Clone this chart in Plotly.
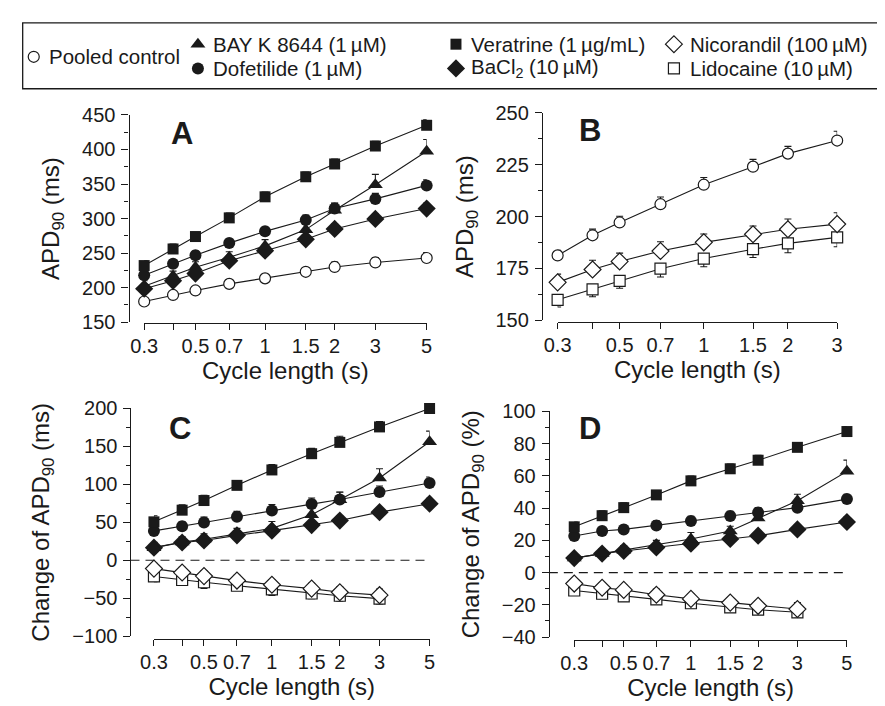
import math
import plotly.graph_objects as go

# ---------------- data ----------------
cycle_length = [0.3, 0.4, 0.5, 0.7, 1, 1.5, 2, 3, 5]
cycle_length_b = [0.3, 0.4, 0.5, 0.7, 1, 1.5, 2, 3]
x_tick_vals = [0.3, 0.5, 0.7, 1, 1.5, 2, 3, 5]
x_tick_text = ["0.3", "0.5", "0.7", "1", "1.5", "2", "3", "5"]
x_unlabelled_ticks = [0.4]

# Panel A: APD90 (ms)
a_control = [180, 189.5, 196, 205.5, 213.5, 223, 230, 236.5, 243]
a_control_err = [4, 5, 4, 6, 6, 6, 7, 7, 8]
a_bayk = [202, 217, 229.5, 244, 260.5, 284, 312, 349, 397.5]
a_bayk_err = [8, 7, 8, 8, 9, 10, 10, 15, 17]
a_dof = [218, 234.5, 247, 264.5, 281.5, 298, 314.5, 328.5, 348]
a_dof_err = [6, 6, 6, 6, 6, 7, 8, 8, 8]
a_ver = [232, 256, 274, 301, 331.5, 360.5, 379, 405, 435]
a_ver_err = [7, 7, 6, 7, 7, 7, 7, 7, 8]
a_bacl = [198.5, 210, 220.5, 239, 253.5, 270, 285, 299.5, 314.5]
a_bacl_err = [6, 6, 6, 6, 6, 6, 7, 7, 8]

# Panel B: APD90 (ms)
b_control = [181.3, 191, 197.2, 206, 215.4, 224.1, 230.4, 236.7]
b_control_err = [2.5, 3, 3, 3.5, 3.5, 3.5, 3.5, 4.5]
b_nic = [168.3, 174.5, 178.4, 183.4, 187.6, 191.5, 193.9, 196.4]
b_nic_err = [4, 4.5, 4, 4.5, 4, 4, 5, 5.5]
b_lid = [159.9, 164.9, 169, 174.9, 179.8, 184.3, 187.1, 190]
b_lid_err = [3.5, 3.5, 3.5, 4, 4, 4, 4.5, 4.5]

# Panel C: change of APD90 (ms)
c_ver = [50.6, 66, 78.7, 98.7, 119, 140.4, 155.3, 175.7, 200]
c_ver_err = [8, 7, 7, 6, 7, 7, 8, 7, 8]
c_bayk = [16.6, 24, 27.7, 35, 42, 60, 79.6, 108.5, 156.2]
c_bayk_err = [7, 7, 7, 7, 9, 9, 10, 12, 14]
c_dof = [38.7, 44.7, 49.8, 57.4, 65.5, 74, 80, 89.8, 101.7]
c_dof_err = [6, 6, 7, 7, 8, 8, 10, 8, 8]
c_bacl = [16.6, 23.4, 26, 32.8, 39, 46.4, 52.3, 63.4, 74.5]
c_bacl_err = [6, 6, 6, 6, 6, 6, 6, 6, 7]
c_nic = [-11, -16.2, -20.9, -26.8, -32.3, -37.4, -42.1, -46]
c_nic_err = [7, 7, 7, 7, 7, 7, 7, 8]
c_lid = [-21.3, -26, -29, -33.6, -38.3, -43.8, -46.8, -50.6]
c_lid_err = [7, 7, 8, 6, 8, 7, 7, 7]

# Panel D: change of APD90 (%)
d_ver = [28.4, 35.3, 40.3, 48.2, 56.9, 64.4, 69.7, 77.7, 87.5]
d_ver_err = [3, 3, 3, 2, 3, 3, 3, 3, 3]
d_bayk = [9, 11.8, 13.8, 17, 20.9, 25.8, 33.8, 44.6, 62.8]
d_bayk_err = [2, 3, 3, 3, 4, 3, 4, 4, 7]
d_dof = [22.7, 25.8, 26.8, 29.2, 32, 35.1, 37.3, 40.3, 45.6]
d_dof_err = [2, 2, 2.5, 3, 3, 3, 3, 3, 3]
d_bacl = [9, 11.8, 13.4, 15.6, 17.9, 20.9, 22.9, 26.8, 31.4]
d_bacl_err = [2, 2, 2, 2, 2, 2, 2, 2, 3]
d_nic = [-6.8, -9.4, -10.7, -13.7, -16.3, -18.6, -20.6, -22.6]
d_nic_err = [3, 3, 3, 3.5, 3, 3, 3, 4]
d_lid = [-11.1, -13.1, -14.7, -16.6, -19, -21.6, -23, -24.6]
d_lid_err = [3, 3, 3, 3, 3, 3, 3, 3]

series_names = {
    "control": "Pooled control",
    "bayk": "BAY K 8644 (1\u2009\u00b5M)",
    "dof": "Dofetilide (1\u2009\u00b5M)",
    "ver": "Veratrine (1\u2009\u00b5g/mL)",
    "bacl": "BaCl<sub>2</sub> (10\u2009\u00b5M)",
    "nic": "Nicorandil (100\u2009\u00b5M)",
    "lid": "Lidocaine (10\u2009\u00b5M)",
}

# ---------------- styles ----------------
W, H = 885, 706
OFF_X, OFF_Y = 8, 8   # page body margin of the html page
FONT = "Arial, Liberation Sans, Helvetica, sans-serif"
BLACK = "#1a1a1a"

marker_style = {
    "control": dict(symbol="circle", size=11, color="white", line=dict(color=BLACK, width=1.2)),
    "bayk": dict(symbol="triangle-up", size=13, color=BLACK, line=dict(color=BLACK, width=0)),
    "dof": dict(symbol="circle", size=12, color=BLACK, line=dict(color=BLACK, width=0)),
    "ver": dict(symbol="square", size=11, color=BLACK, line=dict(color=BLACK, width=0)),
    "bacl": dict(symbol="diamond", size=14, color=BLACK, line=dict(color=BLACK, width=0)),
    "nic": dict(symbol="diamond", size=13, color="white", line=dict(color=BLACK, width=1.2)),
    "lid": dict(symbol="square", size=11, color="white", line=dict(color=BLACK, width=1.2)),
}
err_down = {"lid"}


def px_x(x):
    return (x - OFF_X) / W


def px_y(y):
    return 1 - (y - OFF_Y) / H


fig = go.Figure()


def add_series(key, xs, ys, errs, xa, ya):
    if key in err_down:
        ey = dict(type="data", symmetric=False, array=[0] * len(errs), arrayminus=errs,
                  color=BLACK, thickness=1.1, width=3.5)
    else:
        ey = dict(type="data", symmetric=False, array=errs, arrayminus=[0] * len(errs),
                  color=BLACK, thickness=1.1, width=3.5)
    fig.add_trace(go.Scatter(
        x=xs, y=ys, mode="lines+markers", name=series_names[key],
        line=dict(color=BLACK, width=1.1), marker=marker_style[key],
        error_y=ey, showlegend=False, cliponaxis=False,
        xaxis=xa, yaxis=ya,
    ))


# Panel A
add_series("control", cycle_length, a_control, a_control_err, "x", "y")
add_series("bacl", cycle_length, a_bacl, a_bacl_err, "x", "y")
add_series("bayk", cycle_length, a_bayk, a_bayk_err, "x", "y")
add_series("dof", cycle_length, a_dof, a_dof_err, "x", "y")
add_series("ver", cycle_length, a_ver, a_ver_err, "x", "y")
# Panel B
add_series("lid", cycle_length_b, b_lid, b_lid_err, "x2", "y2")
add_series("nic", cycle_length_b, b_nic, b_nic_err, "x2", "y2")
add_series("control", cycle_length_b, b_control, b_control_err, "x2", "y2")
# Panel C
add_series("lid", cycle_length_b, c_lid, c_lid_err, "x3", "y3")
add_series("nic", cycle_length_b, c_nic, c_nic_err, "x3", "y3")
add_series("bacl", cycle_length, c_bacl, c_bacl_err, "x3", "y3")
add_series("bayk", cycle_length, c_bayk, c_bayk_err, "x3", "y3")
add_series("dof", cycle_length, c_dof, c_dof_err, "x3", "y3")
add_series("ver", cycle_length, c_ver, c_ver_err, "x3", "y3")
# Panel D
add_series("lid", cycle_length_b, d_lid, d_lid_err, "x4", "y4")
add_series("nic", cycle_length_b, d_nic, d_nic_err, "x4", "y4")
add_series("bacl", cycle_length, d_bacl, d_bacl_err, "x4", "y4")
add_series("bayk", cycle_length, d_bayk, d_bayk_err, "x4", "y4")
add_series("dof", cycle_length, d_dof, d_dof_err, "x4", "y4")
add_series("ver", cycle_length, d_ver, d_ver_err, "x4", "y4")

# ---------------- legend (keys + labels) ----------------
legend_keys = [  # key, symbol x px, y px, text x px
    ("control", 20, 47, 35),
    ("bayk", 188, 34, 202),
    ("dof", 188, 59, 202),
    ("ver", 452, 34, 466),
    ("bacl", 452, 59, 466),
    ("nic", 675, 34, 690),
    ("lid", 675, 59, 690),
]
for key, sx, sy, tx in legend_keys:
    ms = dict(marker_style[key])
    fig.add_trace(go.Scatter(x=[sx - OFF_X], y=[sy - OFF_Y], mode="markers", marker=ms,
                             showlegend=False, hoverinfo="skip", cliponaxis=False,
                             xaxis="x5", yaxis="y5"))

annotations = []
for key, sx, sy, tx in legend_keys:
    annotations.append(dict(
        text=series_names[key], x=px_x(tx), y=px_y(sy), xref="paper", yref="paper",
        xanchor="left", yanchor="middle", showarrow=False, borderpad=0,
        font=dict(family=FONT, size=20.5, color=BLACK)))

# panel letters
for letter, lx, ly in [("A", 172, 126), ("B", 589, 123), ("C", 170, 431), ("D", 589, 431)]:
    annotations.append(dict(
        text="<b>%s</b>" % letter, x=px_x(lx), y=px_y(ly), xref="paper", yref="paper",
        xanchor="center", yanchor="middle", showarrow=False,
        font=dict(family=FONT, size=31, color=BLACK)))

# ---------------- axes ----------------
tickfont = dict(family=FONT, size=20, color=BLACK)
titlefont = dict(family=FONT, size=24, color=BLACK)


def xaxis_cfg(x0, x1, yline, xmax):
    return dict(
        type="log", range=[math.log10(0.3) - 1e-6, math.log10(xmax) + 1e-6],
        domain=[px_x(x0), px_x(x1)], anchor="free", position=px_y(yline),
        tickmode="array", tickvals=[v for v in x_tick_vals if v <= xmax],
        ticktext=[t for v, t in zip(x_tick_vals, x_tick_text) if v <= xmax],
        ticks="outside", ticklen=6, tickwidth=1.2, tickcolor=BLACK,
        minor=dict(tickvals=x_unlabelled_ticks, ticks="outside", ticklen=6,
                   tickwidth=1.2, tickcolor=BLACK, showgrid=False),
        showline=True, linecolor=BLACK, linewidth=1.2, showgrid=False, zeroline=False,
        tickfont=tickfont, ticklabelstandoff=-1,
        title=dict(text="Cycle length (s)", font=titlefont, standoff=3),
    )


def yaxis_cfg(xline, ytop, ybot, rng, dtick, minor, title):
    return dict(
        range=rng, domain=[px_y(ybot), px_y(ytop)], anchor="free", position=px_x(xline),
        tickmode="linear", tick0=rng[0], dtick=dtick,
        ticks="outside", ticklen=7, tickwidth=1.2, tickcolor=BLACK,
        minor=dict(dtick=minor, ticks="outside", ticklen=4, tickwidth=1.2, tickcolor=BLACK),
        showline=True, linecolor=BLACK, linewidth=1.2, showgrid=False, zeroline=False,
        tickfont=tickfont, ticklabelstandoff=2,
        title=dict(text=title, font=titlefont, standoff=14),
    )


layout = dict(
    width=W, height=H, margin=dict(l=0, r=0, t=0, b=0),
    paper_bgcolor="white", plot_bgcolor="rgba(0,0,0,0)",
    font=dict(family=FONT, color=BLACK),
    showlegend=False,
    xaxis=xaxis_cfg(133, 422, 322, 5),
    yaxis=yaxis_cfg(117, 107, 321, [150, 450], 50, 25, "APD<sub>90</sub> (ms)"),
    xaxis2=xaxis_cfg(556, 842, 321, 3),
    yaxis2=yaxis_cfg(540, 105, 319, [150, 250], 25, 12.5, "APD<sub>90</sub> (ms)"),
    xaxis3=xaxis_cfg(143, 425, 648, 5),
    yaxis3=yaxis_cfg(119, 410, 645, [-100, 200], 50, 25, "Change of APD<sub>90</sub> (ms)"),
    xaxis4=xaxis_cfg(573, 852, 649, 5),
    yaxis4=yaxis_cfg(547, 413, 646, [-40, 100], 20, 10, "Change of APD<sub>90</sub> (%)"),
    xaxis5=dict(domain=[0, 1], range=[0, W], visible=False, fixedrange=True, anchor="y5"),
    yaxis5=dict(domain=[0, 1], range=[H, 0], visible=False, fixedrange=True, anchor="x5"),
    annotations=annotations,
    shapes=[
        dict(type="rect", xref="paper", yref="paper", x0=px_x(8.7), x1=px_x(884),
             y0=px_y(12), y1=px_y(80), line=dict(color=BLACK, width=1.3)),
        dict(type="line", xref="paper", yref="y3", x0=px_x(119), x1=px_x(420), y0=0, y1=0,
             line=dict(color=BLACK, width=1.2, dash="9px,6px")),
        dict(type="line", xref="paper", yref="y4", x0=px_x(547), x1=px_x(850), y0=0, y1=0,
             line=dict(color=BLACK, width=1.2, dash="9px,6px")),
    ],
)
fig.update_layout(**layout)

fig.write_html("out.html")
